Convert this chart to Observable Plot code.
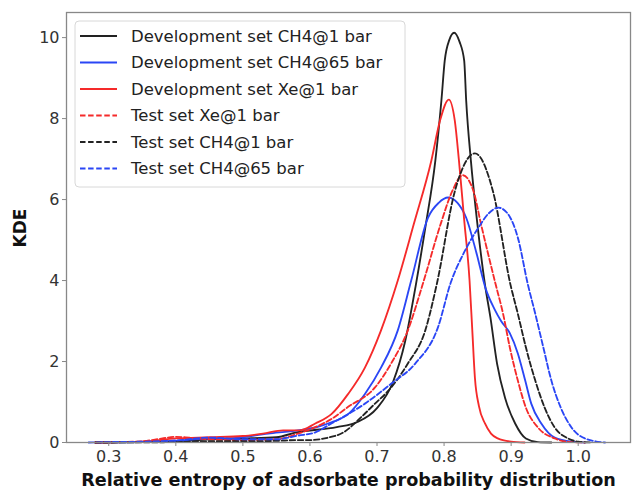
<!DOCTYPE html>
<html>
<head>
<meta charset="utf-8">
<script src="https://cdn.jsdelivr.net/npm/d3@7"></script>
<script src="https://cdn.jsdelivr.net/npm/@observablehq/plot@0.6"></script>
<style>
  html, body { margin: 0; padding: 0; background: #fff; }
  #chart svg { display: block; font-family: "DejaVu Sans", sans-serif; }
</style>
</head>
<body>
<div id="chart"></div>
<script>
// ---- data ----
const seriesNames = [
  "Development set CH4@1 bar",
  "Development set CH4@65 bar",
  "Development set Xe@1 bar",
  "Test set Xe@1 bar",
  "Test set CH4@1 bar",
  "Test set CH4@65 bar"
];
const seriesColors = ["#222222", "#2a46f5", "#f52a2a", "#f52a2a", "#222222", "#2a46f5"];
const seriesDashed = [false, false, false, true, true, true];

const devCH4_1_x = [0.28,0.35,0.40,0.45,0.50,0.55,0.58,0.64,0.67,0.70,0.724,0.742,0.758,0.772,0.787,0.796,0.801,0.808,0.815,0.823,0.830,0.833,0.840,0.849,0.861,0.869,0.879,0.891,0.906,0.922,0.94,0.96];
const devCH4_1_y = [0,0.01,0.03,0.08,0.10,0.13,0.25,0.38,0.5,0.85,1.5,2.5,3.9,5.3,6.96,8.44,9.43,9.95,10.12,9.9,9.43,8.44,6.96,5.5,3.9,3.1,1.95,1.1,0.47,0.1,0.01,0];

const devCH4_65_x = [0.28,0.35,0.40,0.45,0.478,0.538,0.582,0.608,0.632,0.657,0.682,0.706,0.731,0.751,0.776,0.792,0.806,0.82,0.833,0.848,0.862,0.875,0.885,0.898,0.91,0.921,0.93,0.945,0.965,0.99,1.01];
const devCH4_65_y = [0,0.01,0.04,0.1,0.1,0.22,0.3,0.37,0.5,0.7,1.2,1.85,2.77,4.0,5.55,5.92,6.05,5.92,5.55,4.7,3.8,3.3,3.0,2.7,2.2,1.53,0.96,0.47,0.12,0.02,0];

const devXe_1_x = [0.28,0.35,0.40,0.45,0.50,0.53,0.56,0.585,0.608,0.632,0.657,0.682,0.706,0.731,0.755,0.781,0.794,0.807,0.816,0.822,0.83,0.838,0.842,0.846,0.852,0.861,0.870,0.880,0.90,0.92];
const devXe_1_y = [0,0.02,0.1,0.13,0.16,0.22,0.3,0.3,0.47,0.7,1.2,1.85,2.77,4.0,5.4,6.96,7.95,8.47,7.95,7.0,5.5,4.0,2.8,1.6,0.9,0.47,0.22,0.1,0.02,0];

const testXe_1_x = [0.28,0.35,0.38,0.40,0.42,0.45,0.50,0.55,0.582,0.608,0.632,0.657,0.697,0.721,0.746,0.768,0.795,0.812,0.828,0.844,0.855,0.877,0.888,0.898,0.91,0.922,0.94,0.965,0.99,1.01];
const testXe_1_y = [0,0.03,0.1,0.14,0.12,0.08,0.06,0.08,0.22,0.38,0.58,0.88,1.36,1.95,2.77,3.9,5.4,6.2,6.6,6.2,5.4,3.9,3.18,2.35,1.53,0.86,0.37,0.1,0.01,0];

const testCH4_1_x = [0.28,0.40,0.45,0.50,0.55,0.582,0.60,0.627,0.65,0.676,0.697,0.717,0.746,0.772,0.789,0.816,0.846,0.873,0.899,0.91,0.922,0.936,0.95,0.965,0.985,1.0,1.02];
const testCH4_1_y = [0,0.01,0.03,0.03,0.04,0.06,0.06,0.12,0.25,0.62,0.96,1.28,1.95,2.77,3.9,6.2,7.14,6.2,3.9,3.18,2.35,1.53,0.86,0.37,0.1,0.02,0];

const testCH4_65_x = [0.27,0.30,0.35,0.40,0.45,0.50,0.55,0.582,0.608,0.632,0.657,0.682,0.721,0.757,0.791,0.81,0.83,0.851,0.866,0.881,0.895,0.91,0.925,0.936,0.948,0.96,0.974,0.99,1.01,1.04];
const testCH4_65_y = [0,0.01,0.02,0.05,0.12,0.08,0.08,0.17,0.25,0.47,0.7,0.96,1.45,1.95,2.85,3.95,4.7,5.3,5.65,5.8,5.65,5.06,3.9,3.18,2.35,1.53,0.86,0.37,0.1,0];

const seriesX = [devCH4_1_x, devCH4_65_x, devXe_1_x, testXe_1_x, testCH4_1_x, testCH4_65_x];
const seriesY = [devCH4_1_y, devCH4_65_y, devXe_1_y, testXe_1_y, testCH4_1_y, testCH4_65_y];

const xTicks = [0.3, 0.4, 0.5, 0.6, 0.7, 0.8, 0.9, 1.0];
const yTicks = [0, 2, 4, 6, 8, 10];
const xLabel = "Relative entropy of adsorbate probability distribution";
const yLabel = "KDE";

// ---- build ----
const W = 632, H = 492;
const M = {left: 66, right: 2, top: 12, bottom: 50};
const dashPattern = "5.5,2.6";
const lw = 1.85;

const lineMarks = seriesNames.map((name, i) => {
  const rows = seriesX[i].map((x, j) => ({x, y: seriesY[i][j]}));
  return Plot.line(rows, {
    x: "x", y: "y", curve: "monotone-x",
    stroke: seriesColors[i], strokeWidth: lw,
    strokeDasharray: seriesDashed[i] ? dashPattern : null
  });
});

const chart = Plot.plot({
  width: W, height: H,
  marginLeft: M.left, marginRight: M.right, marginTop: M.top, marginBottom: M.bottom,
  style: {fontFamily: "DejaVu Sans, sans-serif", background: "#fff", overflow: "visible"},
  x: {domain: [0.237, 1.078]},
  y: {domain: [0, 10.62]},
  marks: [
    ...lineMarks,
    Plot.frame({stroke: "#888", strokeWidth: 1.3}),
    Plot.axisX({ticks: xTicks, tickFormat: d3.format(".1f"), tickSize: 4, tickPadding: 4,
      fontSize: 16, label: null, stroke: "#888", color: "#333"}),
    Plot.axisY({ticks: yTicks, tickFormat: d3.format("d"), tickSize: 4, tickPadding: 3,
      fontSize: 16, label: null, stroke: "#888", color: "#333"})
  ]
});

document.getElementById("chart").appendChild(chart);

// axis titles and legend
const svg = d3.select(chart);
svg.append("text")
  .attr("x", 348.5).attr("y", 481)
  .attr("text-anchor", "middle").attr("dominant-baseline", "middle")
  .attr("font-size", 17.6).attr("font-weight", "bold").attr("fill", "#111")
  .text(xLabel);
svg.append("text")
  .attr("transform", "translate(21,228) rotate(-90)")
  .attr("text-anchor", "middle").attr("dominant-baseline", "middle")
  .attr("font-size", 17).attr("font-weight", "bold").attr("fill", "#111")
  .text(yLabel);

const lg = svg.append("g");
lg.append("rect").attr("x", 75).attr("y", 21).attr("width", 330).attr("height", 166)
  .attr("rx", 4).attr("fill", "#fff").attr("fill-opacity", 0.85)
  .attr("stroke", "#d8d8d8").attr("stroke-width", 1);
seriesNames.forEach((name, i) => {
  const yy = 36 + i * 26.5;
  lg.append("line").attr("x1", 80).attr("x2", 117).attr("y1", yy).attr("y2", yy)
    .attr("stroke", seriesColors[i]).attr("stroke-width", lw)
    .attr("stroke-dasharray", seriesDashed[i] ? dashPattern : null);
  lg.append("text").attr("x", 131).attr("y", yy + 1)
    .attr("text-anchor", "start")
    .attr("dominant-baseline", "middle").attr("font-size", 16.5).attr("fill", "#222")
    .text(name);
});
</script>
</body>
</html>
